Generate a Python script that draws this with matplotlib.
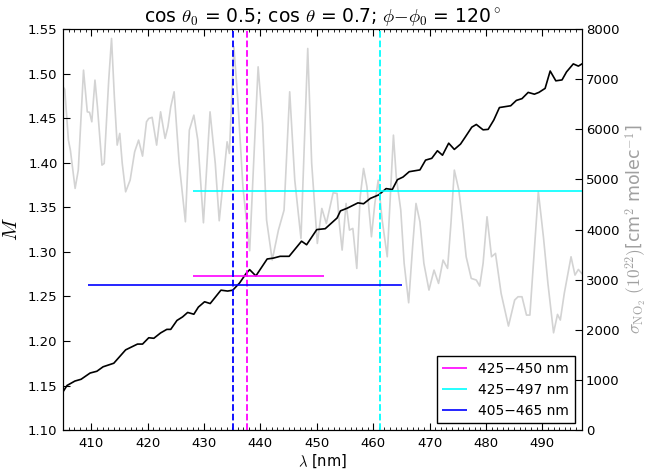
import numpy as np
import matplotlib
matplotlib.use('Agg')
import matplotlib.pyplot as plt

plt.rcParams['mathtext.fontset'] = 'cm'
plt.rcParams['font.family'] = 'DejaVu Sans'

# air mass factor M vs wavelength
wl_m = [405.0, 405.7, 407.1, 408.2, 409.8, 411.0, 412.1, 414.0, 416.1, 418.2,
        419.1, 420.2, 421.1, 422.3, 423.4, 424.1, 425.2, 426.2, 427.1, 428.2,
        429.0, 430.1, 431.1, 433.0, 434.2, 435.1, 436.3, 437.5, 438.1, 439.2,
        441.2, 442.3, 443.5, 445.1, 447.3, 448.2, 450.0, 451.5, 453.6, 454.2,
        455.4, 457.3, 458.3, 459.5, 461.0, 462.3, 463.4, 464.3, 465.3, 466.4,
        468.3, 469.3, 470.4, 471.4, 472.3, 473.4, 474.4, 475.5, 476.3, 477.5,
        478.3, 479.5, 480.4, 481.4, 482.4, 484.4, 485.4, 486.4, 487.5, 488.6,
        489.4, 490.5, 491.4, 492.4, 493.5, 494.3, 495.5, 496.4, 497.3]
m_vals = [1.143, 1.150, 1.155, 1.157, 1.164, 1.166, 1.171, 1.175, 1.190, 1.1965,
          1.1965, 1.2036, 1.203, 1.209, 1.213, 1.213, 1.223, 1.227, 1.232, 1.230,
          1.238, 1.244, 1.242, 1.257, 1.256, 1.257, 1.265, 1.276, 1.280, 1.273,
          1.292, 1.293, 1.295, 1.295, 1.312, 1.308, 1.325, 1.326, 1.338, 1.346,
          1.349, 1.355, 1.354, 1.360, 1.364, 1.371, 1.370, 1.381, 1.384, 1.390,
          1.392, 1.403, 1.405, 1.4135, 1.4085, 1.422, 1.415, 1.421, 1.4285, 1.440,
          1.443, 1.437, 1.4375, 1.448, 1.462, 1.464, 1.470, 1.472, 1.479, 1.477,
          1.479, 1.4835, 1.503, 1.492, 1.493, 1.502, 1.511, 1.5085, 1.512]

# NO2 cross section (right axis)
wl_s = [405.0, 405.3, 405.95, 406.3, 407.14, 407.7, 408.63, 409.3, 409.7, 410.1,
        410.66, 411.1, 411.9, 412.3, 413.1, 413.6, 414.1, 414.6, 415.06, 415.5,
        416.1, 416.9, 417.7, 418.4, 419.1, 419.8, 420.2, 420.8, 421.6, 422.3,
        423.1, 423.6, 424.1, 424.7, 425.6, 426.7, 427.4, 428.2, 428.9, 429.9,
        431.07, 432.0, 432.7, 433.6, 434.1, 434.5, 435.3, 436.0, 436.9, 438.1,
        438.8, 439.6, 440.4, 441.1, 442.1, 443.2, 444.2, 445.2, 446.1, 447.2,
        448.4, 449.1, 450.1, 450.9, 451.7, 452.9, 453.6, 454.0, 454.5, 455.2,
        455.8, 456.4, 457.1, 457.7, 458.3, 458.9, 459.7, 460.3, 460.9, 461.6,
        462.5, 463.6, 464.1, 464.9, 465.5, 466.3, 467.0, 467.6, 468.3, 469.0,
        469.9, 470.8, 471.6, 472.4, 473.2, 473.8, 474.4, 475.2, 475.9, 476.5,
        477.4, 478.3, 478.9, 479.5, 480.2, 481.0, 481.7, 482.7, 484.0, 485.1,
        485.7, 486.4, 487.2, 487.8, 489.3, 490.2, 491.0, 492.0, 492.7, 493.2,
        493.9, 495.1, 495.8, 496.4, 497.0]
sigma = [6850, 6800, 5786, 5586, 4822, 5187, 7182, 6350, 6340, 6151,
         6983, 6450, 5287, 5320, 6983, 7814, 6650, 5686, 5919, 5320,
         4754, 4988, 5552, 5786, 5466, 6151, 6217, 6240, 5686, 6350,
         5820, 6051, 6450, 6750, 5320, 4156, 5985, 6284, 5786, 4136,
         6350, 5320, 4176, 5187, 5752, 5520, 7647, 6584, 4854, 3577,
         5320, 7248, 6118, 4189, 3392, 3990, 4389, 6750, 4988, 3824,
         7614, 5320, 3724, 4422, 4122, 4734, 4722, 4123, 3591, 4522,
         3990, 4023, 3225, 4655, 5220, 4855, 3857, 4522, 4988, 4190,
         3458, 5885, 5054, 4389, 3325, 2540, 3657, 4522, 4156, 3325,
         2793, 3192, 2926, 3392, 3225, 4123, 5187, 4788, 4122, 3458,
         3026, 2993, 2873, 3325, 4256, 3458, 3525, 2727, 2075, 2594,
         2660, 2660, 2294, 2294, 4754, 3857, 2926, 1941, 2308, 2195,
         2727, 3458, 3092, 3205, 3125]

# fitting windows: label, colour, mean M, line start/end, dashed marker
win_labels = ['425\u2212450 nm', '425\u2212497 nm', '405\u2212465 nm']
win_colors = ['#ff00ff', '#00ffff', '#0000ff']
win_m = [1.2725, 1.368, 1.2625]
win_start = [428.0, 428.0, 409.4]
win_end = [451.2, 497.0, 465.1]
win_vline = [437.7, 461.2, 435.1]

fig = plt.figure(figsize=(6.5, 4.7), dpi=100)
ax1 = fig.add_axes([0.097, 0.085, 0.798, 0.853])
ax2 = ax1.twinx()

ax2.plot(wl_s, sigma, color='#d3d3d3', lw=1.2)
ax2.set_ylim(0, 8000)
ax2.set_ylabel(r'$\sigma_{\mathrm{NO_2}}$ $(10^{22})$[cm$^2$ molec$^{-1}$]',
               color='#a0a0a0', fontsize=12.5, labelpad=3)

ax1.set_zorder(ax2.get_zorder() + 1)
ax1.patch.set_visible(False)

ax1.plot(wl_m, m_vals, color='black', lw=1.2)
for lab, c, m, x0, x1, xv in zip(win_labels, win_colors, win_m, win_start, win_end, win_vline):
    ax1.hlines(m, x0, x1, color=c, lw=1.2, label=lab)
    ax1.axvline(xv, color=c, ls='--', lw=1.3)

ax1.set_xlim(405, 497)
ax1.set_ylim(1.10, 1.55)
ax1.set_yticks(np.arange(1.10, 1.551, 0.05))
ax1.set_yticklabels(['%.2f' % v for v in np.arange(1.10, 1.551, 0.05)])
ax1.set_xticks(np.arange(410, 491, 10))
ax1.set_xticks(np.arange(405, 498, 1), minor=True)
ax1.tick_params(axis='both', which='both', direction='in', labelsize=9.5)
ax1.tick_params(axis='x', which='both', top=True)
ax1.tick_params(axis='x', which='major', length=5, pad=5)
ax1.tick_params(axis='x', which='minor', length=2.5)
ax1.tick_params(axis='y', which='major', length=5, right=False, pad=4)
ax2.tick_params(axis='y', direction='in', labelsize=9.5, length=5, pad=3)
ax2.set_yticks(np.arange(0, 8001, 1000))

ax1.set_xlabel(r'$\lambda$ [nm]', fontsize=10.5, labelpad=2)
ax1.set_ylabel(r'$M$', fontsize=15, labelpad=5)
ax1.set_title(r'cos $\theta_0$ = 0.5; cos $\theta$ = 0.7; $\phi{-}\phi_0$ = 120$^\circ$',
              fontsize=13.5, pad=5)

leg = ax1.legend(loc='lower right', fontsize=10, fancybox=False, framealpha=1,
                 edgecolor='black', borderaxespad=0.5, handlelength=1.8)
leg.get_frame().set_linewidth(1.0)

fig.savefig('out.png', dpi=100)
